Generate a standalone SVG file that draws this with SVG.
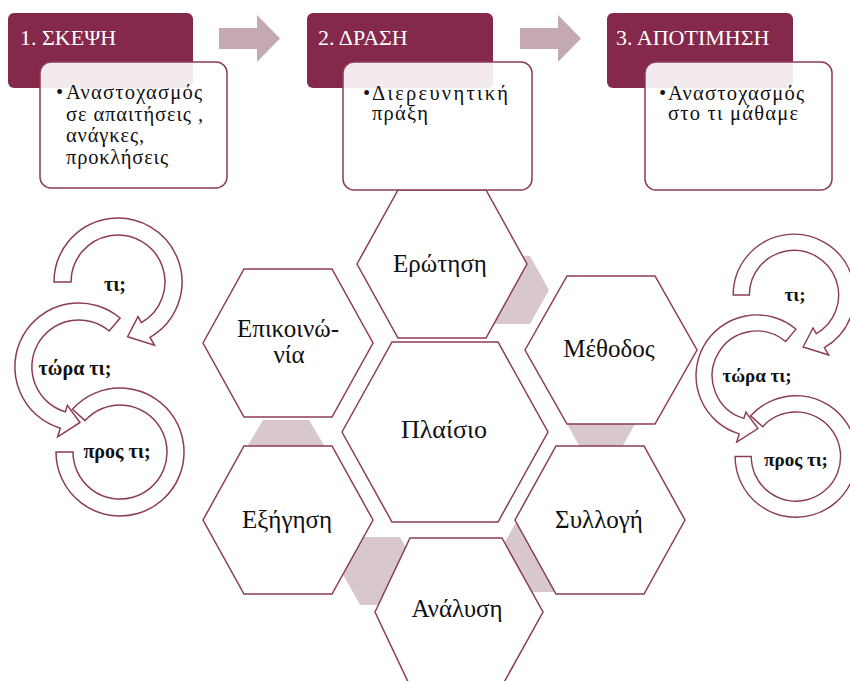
<svg xmlns="http://www.w3.org/2000/svg" width="850" height="681" viewBox="0 0 850 681">
<style>
.dark{fill:#85294C}
.title{font-family:"Liberation Serif","DejaVu Serif",serif;font-size:22px;fill:#fff}
.card{fill:#fff;fill-opacity:.9;stroke:#8C3B58;stroke-width:1.5}
.body{font-family:"Liberation Serif","DejaVu Serif",serif;font-size:20.5px;fill:#111}
.arrow{fill:#C4A9B1}
.hex{fill:#fff;stroke:#8C3B58;stroke-width:1.5}
.conn{fill:#D8C8CD}
.hl{font-family:"Liberation Serif","DejaVu Serif",serif;font-size:25px;text-anchor:middle;fill:#111}
.circ{fill:#fff;stroke:#8C3B58;stroke-width:1.5}
.cl{font-family:"Liberation Serif","DejaVu Serif",serif;font-size:20px;font-weight:bold;text-anchor:middle;fill:#111}
</style>
<defs>
<g id="cycle">
<path class="circ" d="M72.4,409.2 A64,64 0 1 1 56,452 L73,452 A47,47 0 1 0 85.1,420.6 Z"/>
<path class="circ" d="M120.1,318 A64,64 0 1 0 60.3,428.2 L57.7,436.8 L80,422.5 L67.3,405.3 L65.3,411.9 A47,47 0 1 1 109.2,331 Z"/>
<path class="circ" d="M54,282 A64,64 0 1 1 150,337.4 L154.5,345.2 L127.6,336.7 L138,316.6 L141.5,322.7 A47,47 0 1 0 71,282 Z"/>
</g>
</defs>
<g id="connectors">
<polygon class="conn" points="471,290 490,256 530,256 549,290 530,324 490,324"/>
<polygon class="conn" points="562,415 581,381 621,381 640,415 621,449 581,449"/>
<polygon class="conn" points="496,558 515,524 555,524 574,558 555,592 515,592"/>
<polygon class="conn" points="341,571 360,537 400,537 419,571 400,605 360,605"/>
<polygon class="conn" points="242,455 263,420 309,420 330,455 309,490 263,490"/>
<polygon class="arrow" points="219,28 257,28 257,15 280,38.5 257,62 257,49 219,49"/>
<polygon class="arrow" points="520,28 558,28 558,15 581,38.5 558,62 558,49 520,49"/>
</g>
<g id="hex-erotisi">
<polygon class="hex" points="357,264 398,190 486,190 527,264 486,338 398,338"/>
<text class="hl" x="440" y="272">Ερώτηση</text>
</g>
<g id="hex-epikoinonia">
<polygon class="hex" points="203,343 244,269 332,269 373,343 332,417 244,417"/>
<text class="hl" x="288" y="337">Επικοινώ-</text>
<text class="hl" x="289" y="363">νία</text>
</g>
<g id="hex-plaisio">
<polygon class="hex" points="342,432 392,342 498,342 548,432 498,522 392,522"/>
<text class="hl" x="444" y="438" style="font-size:26px">Πλαίσιο</text>
</g>
<g id="hex-methodos">
<polygon class="hex" points="525,350 567,276 655,276 697,350 655,424 567,424"/>
<text class="hl" x="609" y="357">Μέθοδος</text>
</g>
<g id="hex-syllogi">
<polygon class="hex" points="515,520 556,446 644,446 685,520 644,594 556,594"/>
<text class="hl" x="599" y="528">Συλλογή</text>
</g>
<g id="hex-exigisi">
<polygon class="hex" points="203,520 244,446 332,446 373,520 332,594 244,594"/>
<text class="hl" x="287" y="528">Εξήγηση</text>
</g>
<g id="hex-analysi">
<polygon class="hex" points="375,612 410,538 502,538 543,612 502,686 410,686"/>
<text class="hl" x="457" y="617">Ανάλυση</text>
</g>
<g id="step1">
<rect class="dark" x="8" y="13" width="185" height="75" rx="6"/>
<text class="title" x="20" y="45">1. ΣΚΕΨΗ</text>
<rect class="card" x="40" y="62" width="187" height="126" rx="11"/>
<text class="body" x="56" y="99">•<tspan x="66" textLength="136" lengthAdjust="spacing">Αναστοχασμός</tspan></text>
<text class="body" x="66" y="120.5" textLength="137" lengthAdjust="spacing">σε απαιτήσεις ,</text>
<text class="body" x="66" y="142" textLength="78" lengthAdjust="spacing">ανάγκες,</text>
<text class="body" x="66" y="163.5" textLength="102" lengthAdjust="spacing">προκλήσεις</text>
</g>
<g id="step2">
<rect class="dark" x="307" y="13" width="186" height="75" rx="6"/>
<text class="title" x="318" y="45">2. ΔΡΑΣΗ</text>
<rect class="card" x="343" y="62" width="189" height="128" rx="11"/>
<text class="body" x="363" y="100">•<tspan x="372" textLength="136" lengthAdjust="spacing">Διερευνητική</tspan></text>
<text class="body" x="372" y="120" textLength="56" lengthAdjust="spacing">πράξη</text>
</g>
<g id="step3">
<rect class="dark" x="607" y="13" width="186" height="75" rx="6"/>
<text class="title" x="616" y="45">3. ΑΠΟΤΙΜΗΣΗ</text>
<rect class="card" x="645" y="62" width="187" height="128" rx="11"/>
<text class="body" x="659" y="100">•<tspan x="668" textLength="136" lengthAdjust="spacing">Αναστοχασμός</tspan></text>
<text class="body" x="668" y="120" textLength="130" lengthAdjust="spacing">στο τι μάθαμε</text>
</g>
<g id="cycle-left">
<use href="#cycle"/>
<text class="cl" x="115" y="291">τι;</text>
<text class="cl" x="75" y="375">τώρα τι;</text>
<text class="cl" x="117" y="458">προς τι;</text>
</g>
<g id="cycle-right">
<use href="#cycle" transform="translate(681.9,27.1) scale(0.95)"/>
<text class="cl" x="795" y="301" style="font-size:19px">τι;</text>
<text class="cl" x="757" y="382" style="font-size:19px">τώρα τι;</text>
<text class="cl" x="796" y="466" style="font-size:19px">προς τι;</text>
</g>
</svg>
